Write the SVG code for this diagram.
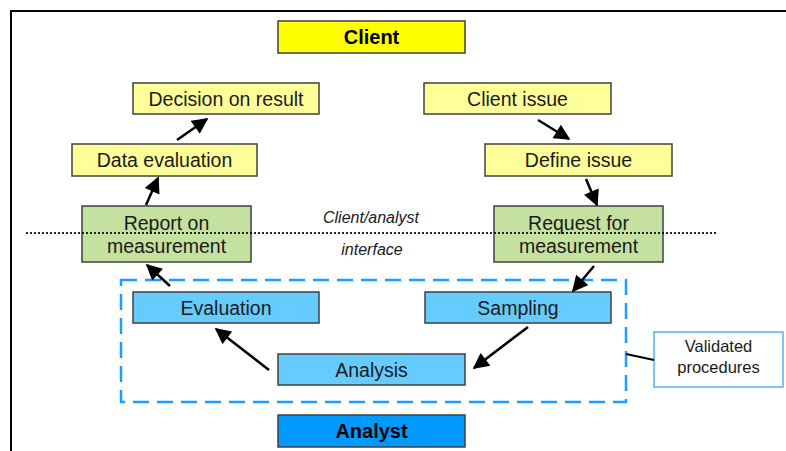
<svg xmlns="http://www.w3.org/2000/svg" width="786" height="451" viewBox="0 0 786 451">
<defs>
<marker id="ah" viewBox="0 0 10 10" refX="9" refY="5" markerWidth="17" markerHeight="16" markerUnits="userSpaceOnUse" orient="auto">
<path d="M0,0 L10,5 L0,10 z" fill="#000"/>
</marker>
</defs>
<style>
.n{stroke:#404040;stroke-width:1.5}
.y1{fill:#ffff00}.y2{fill:#ffff99}.g{fill:#c5e1a0}.b{fill:#66ccff}.b2{fill:#0099ff}
.t{font-family:"Liberation Sans",Arial,sans-serif;font-size:19.5px;fill:#1a1a1a;text-anchor:middle}
.bold{font-weight:bold;font-size:20px;fill:#000}
.it{font-family:"Liberation Sans",Arial,sans-serif;font-size:16px;font-style:italic;fill:#1a1a1a;text-anchor:middle}
.a{stroke:#000;stroke-width:2.5;fill:none;marker-end:url(#ah)}
</style>
<rect width="786" height="451" fill="#fff"/>
<path d="M11,460 V11 H800" fill="none" stroke="#000" stroke-width="2"/>
<g id="interface-label">
<text class="it" x="371" y="223">Client/analyst</text>
<text class="it" x="372" y="255">interface</text>
</g>
<g id="validated-box">
<rect x="121" y="280" width="505" height="122" fill="none" stroke="#1a9eff" stroke-width="2.5" stroke-dasharray="16,8"/>
</g>
<g id="client"><rect class="n y1" x="278" y="21" width="187" height="32"/><text class="t bold" x="371.5" y="44">Client</text></g>
<g id="decision"><rect class="n y2" x="133" y="83" width="186" height="31"/><text class="t" x="226" y="106">Decision on result</text></g>
<g id="data-evaluation"><rect class="n y2" x="72" y="144" width="185" height="32"/><text class="t" x="164.5" y="167">Data evaluation</text></g>
<g id="client-issue"><rect class="n y2" x="424" y="83" width="187" height="31"/><text class="t" x="517.5" y="106">Client issue</text></g>
<g id="define-issue"><rect class="n y2" x="485" y="144" width="187" height="32"/><text class="t" x="578.5" y="167">Define issue</text></g>
<g id="report"><rect class="n g" x="82" y="206" width="169" height="56"/><text class="t" x="166.5" y="230">Report on</text><text class="t" x="166.5" y="253">measurement</text></g>
<g id="request"><rect class="n g" x="494" y="206" width="169" height="56"/><text class="t" x="578.5" y="230">Request for</text><text class="t" x="578.5" y="253">measurement</text></g>
<g id="evaluation"><rect class="n b" x="133" y="292" width="186" height="31"/><text class="t" x="226" y="315">Evaluation</text></g>
<g id="sampling"><rect class="n b" x="425" y="292" width="186" height="31"/><text class="t" x="518" y="315">Sampling</text></g>
<g id="analysis"><rect class="n b" x="278" y="354" width="187" height="31"/><text class="t" x="371.5" y="377">Analysis</text></g>
<g id="analyst"><rect class="n b2" x="278" y="415" width="187" height="32"/><text class="t bold" x="371.5" y="438">Analyst</text></g>
<g id="validated-procedures">
<rect x="654" y="332" width="129" height="55" fill="#fff" stroke="#4db3ff" stroke-width="1.5"/>
<text class="t" style="font-size:16.5px" x="718.5" y="352">Validated</text>
<text class="t" style="font-size:16.5px" x="718.5" y="373">procedures</text>
</g>
<line id="interface-line" x1="26" y1="233" x2="718" y2="233" stroke="#000" stroke-width="2.2" stroke-dasharray="2,2" opacity="0.85"/>
<g id="connectors">
<line class="a" x1="177" y1="140" x2="207" y2="119"/>
<line class="a" x1="146" y1="205" x2="158" y2="178"/>
<line class="a" x1="538" y1="120" x2="569" y2="139"/>
<line class="a" x1="586" y1="179" x2="597" y2="205"/>
<line class="a" x1="594" y1="266" x2="573" y2="291"/>
<line class="a" x1="528" y1="327" x2="474" y2="368"/>
<line class="a" x1="269" y1="370" x2="216" y2="329"/>
<line class="a" x1="170" y1="286" x2="147" y2="265"/>
<line x1="626" y1="354" x2="654" y2="360" stroke="#000" stroke-width="2"/>
</g>
</svg>
